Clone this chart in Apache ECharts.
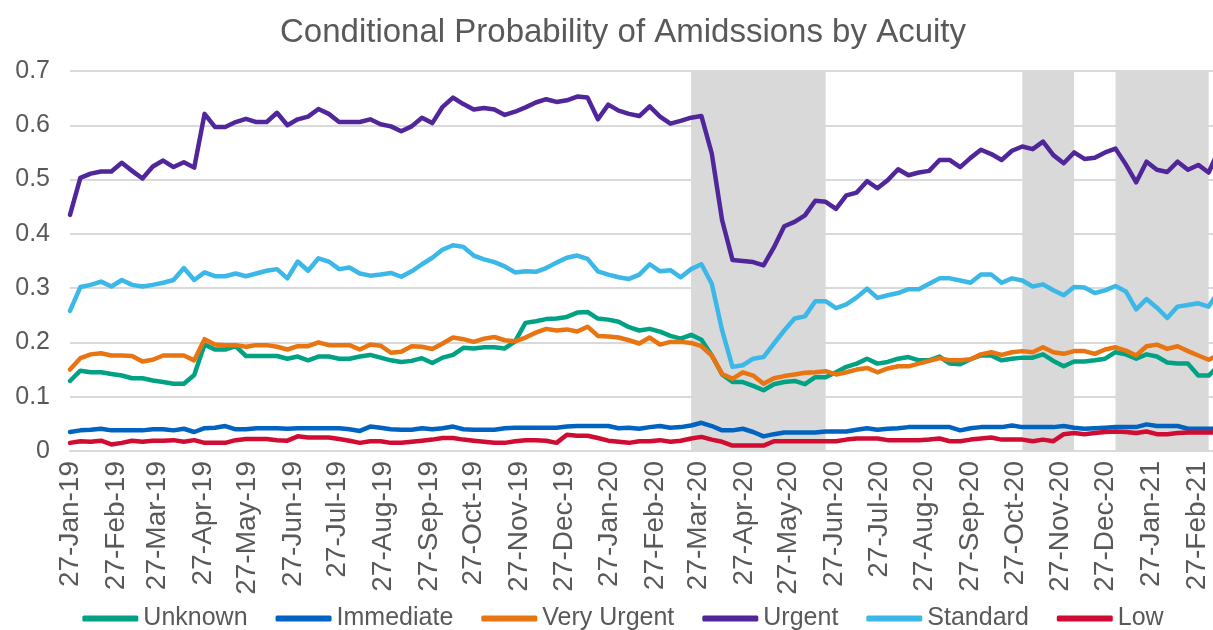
<!DOCTYPE html>
<html>
<head>
<meta charset="utf-8">
<title>Conditional Probability of Admissions by Acuity</title>
<script src="https://cdn.jsdelivr.net/npm/echarts@6/dist/echarts.min.js"></script>
<style>
  html, body { margin: 0; padding: 0; overflow: hidden; background: #ffffff; }
  #chart { width: 1246px; height: 630px; }
</style>
</head>
<body>
<div id="chart"></div>
<script>
// Weekly series, one value per week starting Sunday 27 Jan 2019
const firstWeek = '2019-01-27';
const weekCount = 112;

const unknown = [
  0.129, 0.148, 0.145, 0.145, 0.142, 0.139, 0.134, 0.134, 0.130, 0.127,
  0.124, 0.124, 0.140, 0.196, 0.187, 0.187, 0.193, 0.175, 0.175, 0.175,
  0.175, 0.170, 0.174, 0.167, 0.174, 0.174, 0.170, 0.170, 0.174, 0.177,
  0.172, 0.167, 0.164, 0.166, 0.171, 0.162, 0.172, 0.177, 0.190, 0.189,
  0.191, 0.191, 0.189, 0.202, 0.236, 0.239, 0.243, 0.244, 0.247, 0.255,
  0.256, 0.244, 0.242, 0.238, 0.228, 0.222, 0.225, 0.220, 0.212, 0.207,
  0.214, 0.205, 0.176, 0.141, 0.127, 0.127, 0.120, 0.112, 0.123, 0.127,
  0.129, 0.123, 0.136, 0.136, 0.145, 0.155, 0.161, 0.170, 0.161, 0.164,
  0.170, 0.173, 0.167, 0.167, 0.174, 0.161, 0.160, 0.169, 0.176, 0.176,
  0.167, 0.170, 0.172, 0.172, 0.178, 0.166, 0.156, 0.165, 0.165, 0.167,
  0.170, 0.182, 0.178, 0.170, 0.178, 0.174, 0.163, 0.161, 0.161, 0.139,
  0.139, 0.158
];

const immediate = [
  0.035, 0.038, 0.039, 0.041, 0.038, 0.038, 0.038, 0.038, 0.040, 0.040,
  0.038, 0.041, 0.035, 0.042, 0.043, 0.046, 0.040, 0.040, 0.042, 0.042,
  0.042, 0.041, 0.042, 0.042, 0.042, 0.042, 0.042, 0.040, 0.037, 0.045,
  0.043, 0.040, 0.039, 0.039, 0.042, 0.040, 0.042, 0.045, 0.040, 0.039,
  0.039, 0.039, 0.042, 0.043, 0.043, 0.043, 0.043, 0.043, 0.045, 0.046,
  0.046, 0.046, 0.046, 0.042, 0.043, 0.041, 0.044, 0.046, 0.043, 0.044,
  0.047, 0.052, 0.046, 0.038, 0.038, 0.041, 0.035, 0.027, 0.031, 0.034,
  0.034, 0.034, 0.034, 0.036, 0.036, 0.036, 0.039, 0.042, 0.039, 0.041,
  0.042, 0.044, 0.044, 0.044, 0.044, 0.044, 0.038, 0.042, 0.044, 0.044,
  0.044, 0.047, 0.044, 0.044, 0.044, 0.044, 0.046, 0.043, 0.041, 0.042,
  0.043, 0.044, 0.044, 0.044, 0.049, 0.046, 0.046, 0.046, 0.041, 0.041,
  0.041, 0.041
];

const veryUrgent = [
  0.150, 0.171, 0.178, 0.180, 0.176, 0.176, 0.175, 0.165, 0.168, 0.176,
  0.176, 0.176, 0.167, 0.206, 0.196, 0.195, 0.195, 0.192, 0.195, 0.195,
  0.192, 0.187, 0.193, 0.193, 0.200, 0.195, 0.195, 0.195, 0.187, 0.196,
  0.194, 0.181, 0.183, 0.193, 0.192, 0.188, 0.198, 0.209, 0.206, 0.201,
  0.207, 0.210, 0.204, 0.202, 0.209, 0.218, 0.225, 0.222, 0.224, 0.220,
  0.229, 0.212, 0.211, 0.209, 0.204, 0.198, 0.209, 0.196, 0.201, 0.201,
  0.199, 0.193, 0.176, 0.142, 0.133, 0.145, 0.139, 0.124, 0.134, 0.138,
  0.141, 0.144, 0.145, 0.147, 0.141, 0.145, 0.150, 0.153, 0.145, 0.152,
  0.156, 0.156, 0.161, 0.166, 0.171, 0.167, 0.167, 0.169, 0.178, 0.182,
  0.177, 0.182, 0.184, 0.182, 0.191, 0.182, 0.179, 0.184, 0.184, 0.179,
  0.187, 0.191, 0.185, 0.176, 0.193, 0.196, 0.188, 0.193, 0.184, 0.176,
  0.168, 0.178
];

const urgent = [
  0.435, 0.503, 0.511, 0.515, 0.515, 0.531, 0.516, 0.502, 0.524, 0.535,
  0.523, 0.532, 0.522, 0.621, 0.597, 0.597, 0.606, 0.612, 0.606, 0.606,
  0.623, 0.600, 0.611, 0.616, 0.630, 0.621, 0.606, 0.606, 0.606, 0.611,
  0.602, 0.598, 0.589, 0.598, 0.614, 0.604, 0.634, 0.651, 0.639, 0.629,
  0.632, 0.629, 0.619, 0.625, 0.633, 0.642, 0.648, 0.643, 0.646, 0.653,
  0.651, 0.611, 0.638, 0.627, 0.621, 0.617, 0.635, 0.616, 0.603, 0.608,
  0.614, 0.617, 0.548, 0.425, 0.352, 0.350, 0.348, 0.342, 0.375, 0.414,
  0.422, 0.434, 0.461, 0.459, 0.446, 0.471, 0.476, 0.497, 0.484, 0.499,
  0.519, 0.508, 0.513, 0.516, 0.536, 0.536, 0.523, 0.540, 0.555, 0.547,
  0.536, 0.553, 0.561, 0.556, 0.570, 0.545, 0.530, 0.550, 0.538, 0.540,
  0.550, 0.557, 0.528, 0.495, 0.533, 0.518, 0.514, 0.533, 0.518, 0.527,
  0.513, 0.555
];

const standard = [
  0.258, 0.302, 0.306, 0.312, 0.303, 0.315, 0.306, 0.303, 0.306, 0.310,
  0.315, 0.337, 0.315, 0.329, 0.322, 0.322, 0.327, 0.322, 0.327, 0.332,
  0.335, 0.318, 0.349, 0.332, 0.355, 0.349, 0.335, 0.338, 0.327, 0.323,
  0.325, 0.328, 0.321, 0.331, 0.344, 0.356, 0.371, 0.379, 0.376, 0.360,
  0.353, 0.348, 0.340, 0.329, 0.331, 0.330, 0.337, 0.347, 0.356, 0.360,
  0.354, 0.331, 0.325, 0.320, 0.317, 0.325, 0.344, 0.331, 0.333, 0.320,
  0.335, 0.344, 0.308, 0.222, 0.155, 0.158, 0.170, 0.173, 0.198, 0.222,
  0.244, 0.248, 0.276, 0.276, 0.263, 0.270, 0.283, 0.299, 0.282, 0.287,
  0.291, 0.298, 0.298, 0.308, 0.318, 0.318, 0.314, 0.310, 0.325, 0.325,
  0.310, 0.318, 0.314, 0.303, 0.307, 0.296, 0.287, 0.302, 0.301, 0.291,
  0.296, 0.304, 0.294, 0.261, 0.280, 0.264, 0.245, 0.266, 0.269, 0.272,
  0.266, 0.295
];

const low = [
  0.015, 0.018, 0.017, 0.019, 0.012, 0.015, 0.019, 0.017, 0.019, 0.019,
  0.020, 0.017, 0.020, 0.015, 0.015, 0.015, 0.020, 0.022, 0.022, 0.022,
  0.020, 0.019, 0.027, 0.025, 0.025, 0.025, 0.022, 0.019, 0.015, 0.018,
  0.018, 0.015, 0.015, 0.017, 0.019, 0.021, 0.024, 0.024, 0.021, 0.019,
  0.017, 0.015, 0.015, 0.018, 0.020, 0.020, 0.019, 0.015, 0.030, 0.028,
  0.028, 0.024, 0.019, 0.017, 0.015, 0.018, 0.018, 0.020, 0.017, 0.019,
  0.023, 0.026, 0.021, 0.017, 0.010, 0.010, 0.010, 0.010, 0.018, 0.018,
  0.018, 0.018, 0.018, 0.018, 0.018, 0.021, 0.023, 0.023, 0.023, 0.020,
  0.020, 0.020, 0.020, 0.021, 0.023, 0.018, 0.018, 0.021, 0.023, 0.025,
  0.021, 0.021, 0.021, 0.018, 0.021, 0.018, 0.031, 0.033, 0.031, 0.033,
  0.035, 0.036, 0.035, 0.033, 0.036, 0.031, 0.031, 0.033, 0.034, 0.034,
  0.034, 0.034
];

// Lockdown periods shaded behind the lines
const lockdowns = [
  ['2020-03-22', '2020-06-21'],
  ['2020-11-01', '2020-12-06'],
  ['2021-01-03', '2021-03-07']
];

// Monthly axis labels, on the 27th of each month
const tickDates = [
  '2019-01-27', '2019-02-27', '2019-03-27', '2019-04-27', '2019-05-27', '2019-06-27',
  '2019-07-27', '2019-08-27', '2019-09-27', '2019-10-27', '2019-11-27', '2019-12-27',
  '2020-01-27', '2020-02-27', '2020-03-27', '2020-04-27', '2020-05-27', '2020-06-27',
  '2020-07-27', '2020-08-27', '2020-09-27', '2020-10-27', '2020-11-27', '2020-12-27',
  '2021-01-27', '2021-02-27'
];

const seriesNames = ['Unknown', 'Immediate', 'Very Urgent', 'Urgent', 'Standard', 'Low'];
const seriesColors = ['#00A283', '#0063C0', '#E87511', '#51269B', '#3BB7E8', '#D00C33'];
const seriesValues = [unknown, immediate, veryUrgent, urgent, standard, low];

const MONTHS = ['Jan', 'Feb', 'Mar', 'Apr', 'May', 'Jun', 'Jul', 'Aug', 'Sep', 'Oct', 'Nov', 'Dec'];
const DAY = 24 * 3600 * 1000;

function toTime(s) {
  const p = s.split('-').map(Number);
  return Date.UTC(p[0], p[1] - 1, p[2]);
}
function fmtDate(t) {
  const d = new Date(t);
  return d.getUTCDate() + '-' + MONTHS[d.getUTCMonth()] + '-' + String(d.getUTCFullYear() % 100).padStart(2, '0');
}

const start = toTime(firstWeek);
const weeks = [];
for (let i = 0; i < weekCount; i++) weeks.push(start + i * 7 * DAY);
const tickValues = tickDates.map(toTime);

const textColor = '#595959';
const gridColor = '#D9D9D9';
const font = 'Liberation Sans, Arial, sans-serif';

const chart = echarts.init(document.getElementById('chart'), null, { renderer: 'canvas' });

const series = [{
  name: 'lockdown',
  type: 'line',
  data: [],
  silent: true,
  z: 1,
  markArea: {
    silent: true,
    itemStyle: { color: gridColor, opacity: 1 },
    data: lockdowns.map(function (r) {
      return [{ xAxis: toTime(r[0]) }, { xAxis: toTime(r[1]) }];
    })
  }
}];

seriesNames.forEach(function (name, i) {
  series.push({
    name: name,
    type: 'line',
    z: 2 + i,
    showSymbol: false,
    symbol: 'none',
    smooth: false,
    color: seriesColors[i],
    lineStyle: { width: 4.5, color: seriesColors[i], cap: 'round', join: 'round' },
    data: seriesValues[i].map(function (v, k) { return [weeks[k], v]; })
  });
});

chart.setOption({
  animation: false,
  backgroundColor: '#ffffff',
  textStyle: { fontFamily: font },
  title: {
    text: 'Conditional Probability of Amidssions by Acuity',
    left: 'center',
    top: 11,
    textStyle: { fontFamily: font, fontSize: 33, fontWeight: 'normal', color: textColor }
  },
  legend: {
    data: seriesNames,
    bottom: -6,
    left: 'center',
    icon: 'roundRect',
    itemWidth: 56,
    itemHeight: 6,
    itemGap: 28,
    textStyle: { fontFamily: font, fontSize: 25, color: textColor }
  },
  grid: { left: 70, right: 27, top: 71, bottom: 179, containLabel: false },
  xAxis: {
    type: 'value',
    min: start,
    max: weeks[weeks.length - 1],
    axisLine: { show: true, onZero: false, lineStyle: { color: gridColor, width: 2 } },
    axisTick: { show: false },
    splitLine: { show: false },
    axisLabel: {
      customValues: tickValues,
      rotate: 90,
      margin: 10,
      fontFamily: font,
      fontSize: 28,
      color: textColor,
      hideOverlap: false,
      showMinLabel: true,
      showMaxLabel: true,
      formatter: function (v) { return fmtDate(v); }
    }
  },
  yAxis: {
    type: 'value',
    min: 0,
    max: 0.7,
    interval: 0.1,
    axisLine: { show: false },
    axisTick: { show: false },
    splitLine: { show: true, lineStyle: { color: gridColor, width: 2 } },
    axisLabel: {
      margin: 20,
      fontFamily: font,
      fontSize: 25,
      color: textColor,
      formatter: function (v) { return v === 0 ? '0' : v.toFixed(1); }
    }
  },
  series: series
});
</script>
</body>
</html>
